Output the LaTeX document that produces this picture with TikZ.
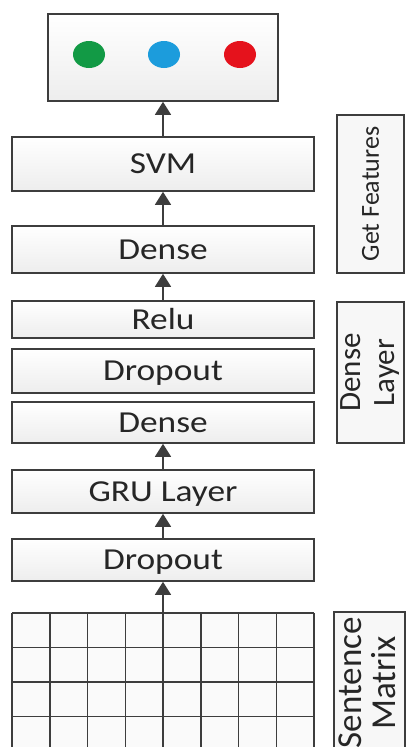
\documentclass[tikz,border=0pt]{standalone}
\usepackage{fontspec}
\setmainfont{Carlito}[FakeStretch=1.16]
\newfontfamily\sidefont{Carlito}
\usetikzlibrary{arrows.meta}

\definecolor{edge}{HTML}{3D3D3D}
\definecolor{ink}{HTML}{262626}
\definecolor{dotgreen}{HTML}{129A45}
\definecolor{dotblue}{HTML}{1C9CDC}
\definecolor{dotred}{HTML}{E5121C}

\tikzset{
  layer/.style={draw=edge, line width=1.6pt, top color=white, bottom color=gray!14,
    minimum width=302pt, inner sep=0pt, text=ink, text height=19pt, text depth=0pt,
    font=\fontsize{30.5}{36}\selectfont},
  side/.style={draw=edge, line width=1.6pt, fill=gray!6, rotate=90, inner sep=0pt,
    text=ink, align=center},
  flow/.style={draw=edge, line width=1.5pt, -{Triangle[width=16pt,length=13pt]}},
  gridline/.style={draw=edge, line width=1.5pt},
}

\begin{document}
\begin{tikzpicture}[x=1pt,y=-1pt]
    \useasboundingbox (0,0) rectangle (408,747);
    \clip (0,0) rectangle (408,747);

    % Output box with the three classes
    \node[layer, minimum width=230pt, minimum height=87pt] (out) at (163,57.5) {};
    \fill[dotgreen] (89,54.5) ellipse (16 and 13.5);
    \fill[dotblue] (164,54.5) ellipse (16 and 13.5);
    \fill[dotred] (240,54.5) ellipse (16 and 13.5);

    % Layer stack, top to bottom
    \node[layer, minimum height=54pt] (svm) at (163,164) {SVM};
    \node[layer, minimum height=47pt] (dense2) at (163,249.5) {Dense};
    \node[layer, minimum height=37pt] (relu) at (163,319.5) {Relu};
    \node[layer, minimum height=44pt] (drop2) at (163,371) {Dropout};
    \node[layer, minimum height=41pt] (dense1) at (163,422.5) {Dense};
    \node[layer, minimum height=43pt] (gru) at (163,491.5) {GRU Layer};
    \node[layer, minimum height=42pt] (drop1) at (163,560) {Dropout};

    % Sentence matrix grid, runs off the bottom
    \fill[gray!4] (12,613) rectangle (314,770);
    \foreach \i in {0,...,8}
        \draw[gridline] ({12+\i*37.75},613) -- ({12+\i*37.75},770);
    \foreach \j in {0,...,4}
        \draw[gridline] (12,{613+\j*34.5}) -- (314,{613+\j*34.5});
    \coordinate (gridtop) at (163,613);

    % Arrows between the layers
    \draw[flow] (svm.north) -- (out.south);
    \draw[flow] (dense2.north) -- (svm.south);
    \draw[flow] (relu.north) -- (dense2.south);
    \draw[flow] (gru.north) -- (dense1.south);
    \draw[flow] (drop1.north) -- (gru.south);
    \draw[flow] (gridtop) -- (drop1.south);

    % Labels on the right
    \node[side, minimum width=158pt, minimum height=67pt,
        font=\sidefont\fontsize{26}{30}\selectfont] (getf) at (370.5,194) {Get Features};
    \node[side, minimum width=141pt, minimum height=67pt,
        font=\sidefont\fontsize{31}{34}\selectfont] (dlayer) at (370.5,372.5) {Dense\\Layer};
    \draw[draw=edge, line width=1.6pt, fill=gray!6] (334,612) rectangle (405,770);
    \node[rotate=90, anchor=east, inner sep=0pt, align=center, text=ink,
        font=\sidefont\fontsize{35}{34}\selectfont] (smat) at (367,617) {Sentence\\Matrix};
\end{tikzpicture}
\end{document}
